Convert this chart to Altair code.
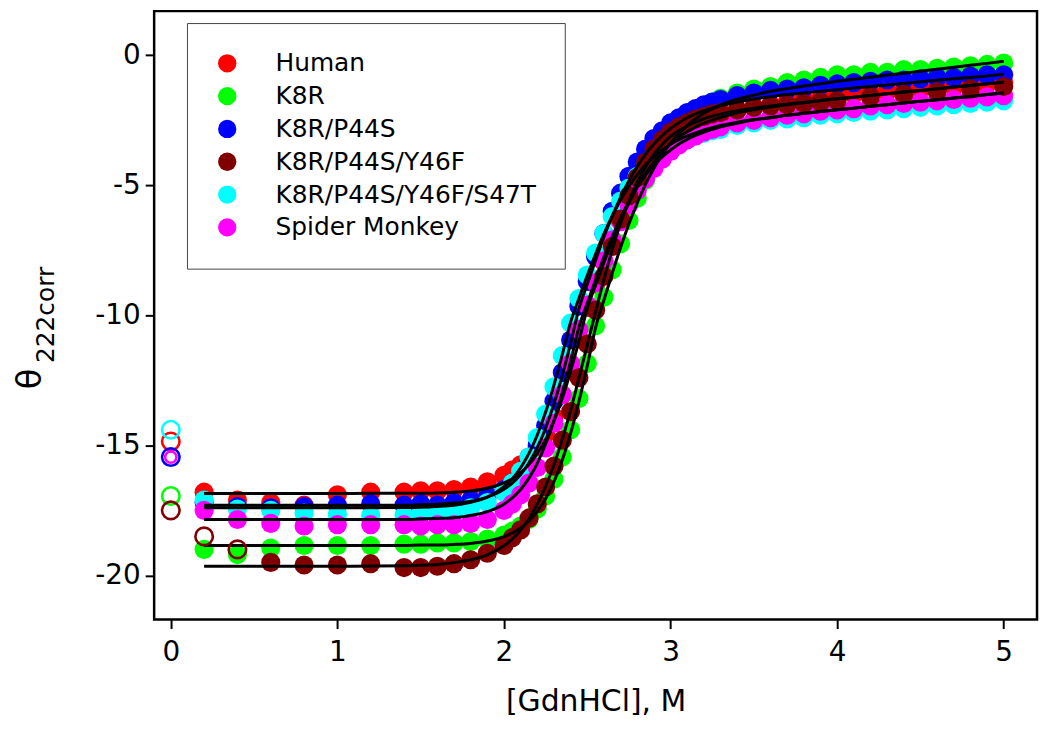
import altair as alt
import pandas as pd

# ---------------- data ----------------
NAMES = ["Human", "K8R", "K8R/P44S", "K8R/P44S/Y46F", "K8R/P44S/Y46F/S47T", "Spider Monkey"]
COLORS = ["#FF0000", "#00FF00", "#0000FF", "#800000", "#00FFFF", "#FF00FF"]
DRAW_ORDER = ["Human", "K8R", "K8R/P44S", "K8R/P44S/Y46F/S47T", "Spider Monkey", "K8R/P44S/Y46F"]

X_MAIN = [0.2, 0.4, 0.6, 0.8, 1.0, 1.2, 1.4, 1.5, 1.6, 1.7, 1.8, 1.9,
          2.0, 2.05, 2.1, 2.15, 2.2, 2.25, 2.3, 2.35, 2.4, 2.45, 2.5, 2.55, 2.6, 2.65,
          2.7, 2.75, 2.8, 2.85, 2.9, 2.95, 3.0, 3.05, 3.1, 3.15, 3.2, 3.25, 3.3,
          3.4, 3.5, 3.6, 3.7, 3.8, 3.9, 4.0, 4.1, 4.2, 4.3, 4.4, 4.5, 4.6, 4.7, 4.8, 4.9, 5.0]
X_MAROON = [0.6, 0.8, 1.0, 1.2, 1.4, 1.5, 1.6, 1.7, 1.8, 1.9,
            2.0, 2.05, 2.1, 2.15, 2.2, 2.25, 2.3, 2.35, 2.4, 2.45, 2.5, 2.55, 2.6, 2.65,
            2.7, 2.75, 2.8, 2.85, 2.9, 2.95, 3.0, 3.05, 3.1, 3.15, 3.2, 3.25, 3.3,
            3.4, 3.5, 3.6, 3.7, 3.8, 3.9, 4.0, 4.2, 4.4, 4.6, 4.8, 5.0]

human_y = [-16.8, -17.1, -17.2, -17.3, -16.9, -16.8, -16.8, -16.75, -16.75, -16.7, -16.6, -16.4,
           -16.15, -15.95, -15.75, -15.45, -15.05, -14.55, -13.9, -13.05, -12.05, -10.9, -9.7, -8.8,
           -7.95, -7.1, -6.35, -5.65, -5.0, -4.5, -4.0, -3.65, -3.35, -3.05, -2.85, -2.7, -2.5, -2.4, -2.3,
           -2.1, -2.0, -1.9, -1.8, -1.7, -1.65, -1.55, -1.5, -1.45, -1.4, -1.35, -1.3, -1.25, -1.2, -1.15, -1.1, -1.05]
k8r_y = [-19.0, -19.2, -18.95, -18.85, -18.85, -18.85, -18.8, -18.8, -18.75, -18.75, -18.7, -18.6,
         -18.45, -18.3, -18.1, -17.85, -17.45, -16.95, -16.3, -15.45, -14.4, -13.2, -11.85, -10.4,
         -9.3, -8.25, -7.25, -6.35, -5.5, -4.8, -4.15, -3.6, -3.15, -2.75, -2.45, -2.2, -1.95, -1.8, -1.65,
         -1.45, -1.3, -1.2, -1.05, -0.95, -0.85, -0.75, -0.75, -0.65, -0.65, -0.55, -0.55, -0.5, -0.45, -0.4, -0.35, -0.3]
p44s_y = [-17.2, -17.35, -17.4, -17.35, -17.3, -17.25, -17.3, -17.25, -17.3, -17.2, -17.1, -16.95,
          -16.7, -16.45, -16.1, -15.6, -15.0, -14.25, -13.3, -12.2, -10.95, -9.65, -8.7, -7.75,
          -6.85, -6.0, -5.3, -4.65, -4.1, -3.6, -3.2, -2.9, -2.6, -2.4, -2.2, -2.05, -1.9, -1.8, -1.7,
          -1.55, -1.45, -1.35, -1.3, -1.25, -1.15, -1.1, -1.05, -1.0, -0.95, -0.95, -0.9, -0.85, -0.85, -0.8, -0.75, -0.75]
y46f_y = [-19.5, -19.6, -19.6, -19.55, -19.7, -19.7, -19.65, -19.55, -19.4, -19.15,
          -18.85, -18.55, -18.25, -17.8, -17.25, -16.6, -15.8, -14.8, -13.7, -12.4, -11.1, -9.8,
          -8.5, -7.35, -6.3, -5.4, -4.7, -4.1, -3.6, -3.25, -2.95, -2.75, -2.6, -2.45, -2.35, -2.25, -2.2,
          -2.1, -2.0, -1.95, -1.9, -1.85, -1.8, -1.75, -1.6, -1.5, -1.4, -1.3, -1.2]
s47t_y = [-17.1, -17.45, -17.5, -17.6, -17.65, -17.7, -17.7, -17.65, -17.6, -17.55, -17.4, -17.2,
          -16.8, -16.45, -16.0, -15.45, -14.7, -13.8, -12.75, -11.55, -10.3, -9.35, -8.45, -7.6,
          -6.85, -6.2, -5.6, -5.1, -4.65, -4.3, -4.0, -3.75, -3.55, -3.35, -3.2, -3.1, -3.0, -2.9, -2.85,
          -2.7, -2.6, -2.5, -2.45, -2.4, -2.3, -2.25, -2.2, -2.15, -2.1, -2.05, -2.0, -1.95, -1.9, -1.85, -1.8, -1.75]
spider_y = [-17.5, -17.85, -18.0, -18.1, -18.05, -18.05, -18.05, -18.1, -18.05, -18.05, -18.0, -17.85,
            -17.5, -17.25, -16.9, -16.45, -15.85, -15.1, -14.15, -13.05, -11.85, -10.55, -9.6, -8.75,
            -7.9, -7.1, -6.4, -5.75, -5.2, -4.75, -4.35, -4.0, -3.7, -3.45, -3.25, -3.1, -2.95, -2.85, -2.75,
            -2.6, -2.5, -2.4, -2.3, -2.25, -2.15, -2.1, -2.05, -1.95, -1.9, -1.85, -1.8, -1.75, -1.7, -1.65, -1.6, -1.55]

# fitted curves (black lines)
FIT_X = [0.2, 1.0, 1.4, 1.5, 1.6, 1.7, 1.8, 1.9,
         2.0, 2.05, 2.1, 2.15, 2.2, 2.25, 2.3, 2.35, 2.4, 2.45, 2.5, 2.55, 2.6, 2.65,
         2.7, 2.75, 2.8, 2.85, 2.9, 2.95, 3.0, 3.05, 3.1, 3.15, 3.2, 3.25, 3.3,
         3.4, 3.5, 3.6, 3.7, 3.8, 3.9, 4.0, 4.1, 4.2, 4.3, 4.4, 4.5, 4.6, 4.7, 4.8, 4.9, 5.0]
fit_human = [-16.85, -16.85, -16.84, -16.84, -16.83, -16.80, -16.75, -16.65,
             -16.44, -16.28, -16.05, -15.74, -15.32, -14.77, -14.06, -13.19, -12.15, -10.99, -9.74, -8.84,
             -7.97, -7.13, -6.36, -5.68, -5.06, -4.55, -4.10, -3.72, -3.42, -3.15, -2.94, -2.76, -2.61, -2.49, -2.39,
             -2.21, -2.09, -1.99, -1.90, -1.82, -1.74, -1.67, -1.61, -1.54, -1.48, -1.41, -1.35, -1.29, -1.22, -1.16, -1.09, -1.03]
fit_k8r = [-18.85, -18.85, -18.85, -18.83, -18.83, -18.81, -18.77, -18.68,
           -18.51, -18.37, -18.18, -17.91, -17.54, -17.05, -16.40, -15.56, -14.54, -13.31, -11.94, -10.47,
           -9.41, -8.38, -7.39, -6.49, -5.68, -4.95, -4.34, -3.81, -3.37, -3.01, -2.70, -2.44, -2.23, -2.06, -1.92,
           -1.69, -1.53, -1.38, -1.28, -1.18, -1.09, -1.00, -0.92, -0.84, -0.76, -0.69, -0.61, -0.53, -0.46, -0.38, -0.31, -0.23]
fit_p44s = [-17.30, -17.30, -17.30, -17.28, -17.26, -17.22, -17.15, -16.99,
            -16.69, -16.45, -16.12, -15.67, -15.09, -14.34, -13.41, -12.31, -11.08, -9.75, -8.80, -7.88,
            -6.99, -6.18, -5.46, -4.82, -4.27, -3.80, -3.41, -3.09, -2.81, -2.59, -2.40, -2.25, -2.13, -2.03, -1.94,
            -1.80, -1.68, -1.59, -1.51, -1.45, -1.38, -1.32, -1.26, -1.20, -1.14, -1.08, -1.02, -0.96, -0.90, -0.85, -0.79, -0.73]
fit_y46f = [-19.65, -19.65, -19.63, -19.61, -19.58, -19.51, -19.40, -19.21,
            -18.86, -18.60, -18.26, -17.82, -17.26, -16.58, -15.75, -14.76, -13.65, -12.41, -11.14, -9.86,
            -8.62, -7.48, -6.46, -5.60, -4.88, -4.29, -3.81, -3.43, -3.12, -2.89, -2.72, -2.57, -2.44, -2.34, -2.26,
            -2.13, -2.03, -1.95, -1.88, -1.81, -1.74, -1.67, -1.61, -1.54, -1.48, -1.41, -1.35, -1.29, -1.22, -1.16, -1.09, -1.03]
fit_s47t = [-17.40, -17.40, -17.39, -17.38, -17.35, -17.30, -17.19, -16.99,
            -16.59, -16.28, -15.86, -15.31, -14.60, -13.72, -12.68, -11.51, -10.26, -9.35, -8.47, -7.64,
            -6.87, -6.18, -5.56, -5.04, -4.59, -4.21, -3.91, -3.64, -3.42, -3.24, -3.10, -2.98, -2.87, -2.78, -2.70,
            -2.57, -2.47, -2.39, -2.30, -2.23, -2.16, -2.09, -2.03, -1.96, -1.90, -1.83, -1.77, -1.71, -1.64, -1.58, -1.51, -1.45]
fit_spider = [-17.85, -17.85, -17.85, -17.83, -17.81, -17.78, -17.70, -17.55,
              -17.26, -17.02, -16.70, -16.26, -15.69, -14.95, -14.05, -12.97, -11.77, -10.46, -9.53, -8.63,
              -7.76, -6.97, -6.25, -5.61, -5.08, -4.62, -4.23, -3.91, -3.64, -3.41, -3.23, -3.08, -2.95, -2.85, -2.75,
              -2.61, -2.49, -2.40, -2.31, -2.24, -2.16, -2.09, -2.03, -1.96, -1.90, -1.83, -1.77, -1.71, -1.64, -1.58, -1.51, -1.45]

# excluded (open) points
open_series = ["Human", "K8R", "K8R/P44S", "K8R/P44S/Y46F", "K8R/P44S/Y46F/S47T",
               "K8R/P44S/Y46F", "K8R/P44S/Y46F"]
open_x = [0.0, 0.0, 0.0, 0.0, 0.0, 0.2, 0.4]
open_y = [-14.85, -16.95, -15.45, -17.5, -14.4, -18.5, -19.0]
open_spider_x = [0.0]
open_spider_y = [-15.45]

X_TICKS = [0, 1, 2, 3, 4, 5]
Y_TICKS = [0, -5, -10, -15, -20]

# ---------------- tables ----------------
dots_by_series = {
    "Human": (X_MAIN, human_y),
    "K8R": (X_MAIN, k8r_y),
    "K8R/P44S": (X_MAIN, p44s_y),
    "K8R/P44S/Y46F": (X_MAROON, y46f_y),
    "K8R/P44S/Y46F/S47T": (X_MAIN, s47t_y),
    "Spider Monkey": (X_MAIN, spider_y),
}
rows = []
for name in DRAW_ORDER:
    xs, ys = dots_by_series[name]
    rows += [{"series": name, "x": a, "y": b} for a, b in zip(xs, ys)]
df_pts = pd.DataFrame(rows)

fits = {"Human": fit_human, "K8R": fit_k8r, "K8R/P44S": fit_p44s, "K8R/P44S/Y46F": fit_y46f,
        "K8R/P44S/Y46F/S47T": fit_s47t, "Spider Monkey": fit_spider}
frows = []
for name, ys in fits.items():
    frows += [{"series": name, "x": a, "y": b} for a, b in zip(FIT_X, ys)]
df_fit = pd.DataFrame(frows)

df_open = pd.DataFrame({"series": open_series, "x": open_x, "y": open_y})
df_open_sp = pd.DataFrame({"series": ["Spider Monkey"] * len(open_spider_x), "x": open_spider_x, "y": open_spider_y})

FONT = "DejaVu Sans"
xs_ = alt.Scale(domain=[-0.1, 5.2], nice=False, zero=False)
ys_ = alt.Scale(domain=[-21.7, 1.7], nice=False, zero=False)
cscale = alt.Scale(domain=NAMES, range=COLORS)

xaxis = alt.Axis(values=X_TICKS, labelExpr="datum.value + ''", title="[GdnHCl], M",
                 titleFontSize=30, titleFont=FONT, titleFontWeight="normal", titleColor="black",
                 titlePadding=20, labelPadding=10)
yaxis = alt.Axis(values=Y_TICKS, labelExpr="datum.value + ''", title=None, labelPadding=5)

X = alt.X("x:Q", scale=xs_, axis=xaxis)
Y = alt.Y("y:Q", scale=ys_, axis=yaxis)

points = alt.Chart(df_pts).mark_circle(size=370, opacity=1).encode(
    x=X, y=Y,
    color=alt.Color("series:N", scale=cscale, sort=NAMES,
                    legend=alt.Legend(title=None, orient="none", legendX=33, legendY=12,
                                      padding=28, rowPadding=7, labelFont=FONT, labelFontSize=25,
                                      labelColor="black", symbolType="circle", symbolSize=340,
                                      symbolStrokeWidth=0, labelOffset=36, strokeColor="#444",
                                      fillColor="white", labelLimit=400)),
)

lines = alt.Chart(df_fit).mark_line(color="black", strokeWidth=3, interpolate="monotone").encode(
    x="x:Q", y="y:Q", detail="series:N"
)

opens = alt.Chart(df_open).mark_point(filled=False, size=310, strokeWidth=2.6, shape="circle", opacity=1).encode(
    x="x:Q", y="y:Q", stroke=alt.Stroke("series:N", scale=cscale, legend=None)
)
opens_sp = alt.Chart(df_open_sp).mark_point(filled=False, size=130, strokeWidth=2.6, shape="circle", opacity=1).encode(
    x="x:Q", y="y:Q", stroke=alt.Stroke("series:N", scale=cscale, legend=None)
)

title_df = pd.DataFrame({"t": ["θ"], "s": ["222corr"]})
theta = alt.Chart(title_df).mark_text(angle=270, fontSize=34, font=FONT, align="center",
                                      baseline="middle", color="black").encode(
    text="t:N", x=alt.value(-124), y=alt.value(370))
sub = alt.Chart(title_df).mark_text(angle=270, fontSize=25, font=FONT, align="left",
                                    baseline="middle", color="black").encode(
    text="s:N", x=alt.value(-109), y=alt.value(354))

chart = alt.layer(points, lines, opens, opens_sp, theta, sub).properties(
    width=888, height=612,
    autosize=alt.AutoSizeParams(type="none"),
    padding={"left": 147, "top": 1, "right": 5, "bottom": 125},
).configure_view(
    stroke="black", strokeWidth=2.5
).configure_axis(
    domain=False, grid=False, ticks=True, tickColor="black", tickWidth=2, tickSize=9,
    labelFont=FONT, labelFontSize=28, labelColor="black"
)

chart.save("out.html", embed_options={"renderer": "svg", "actions": False})
